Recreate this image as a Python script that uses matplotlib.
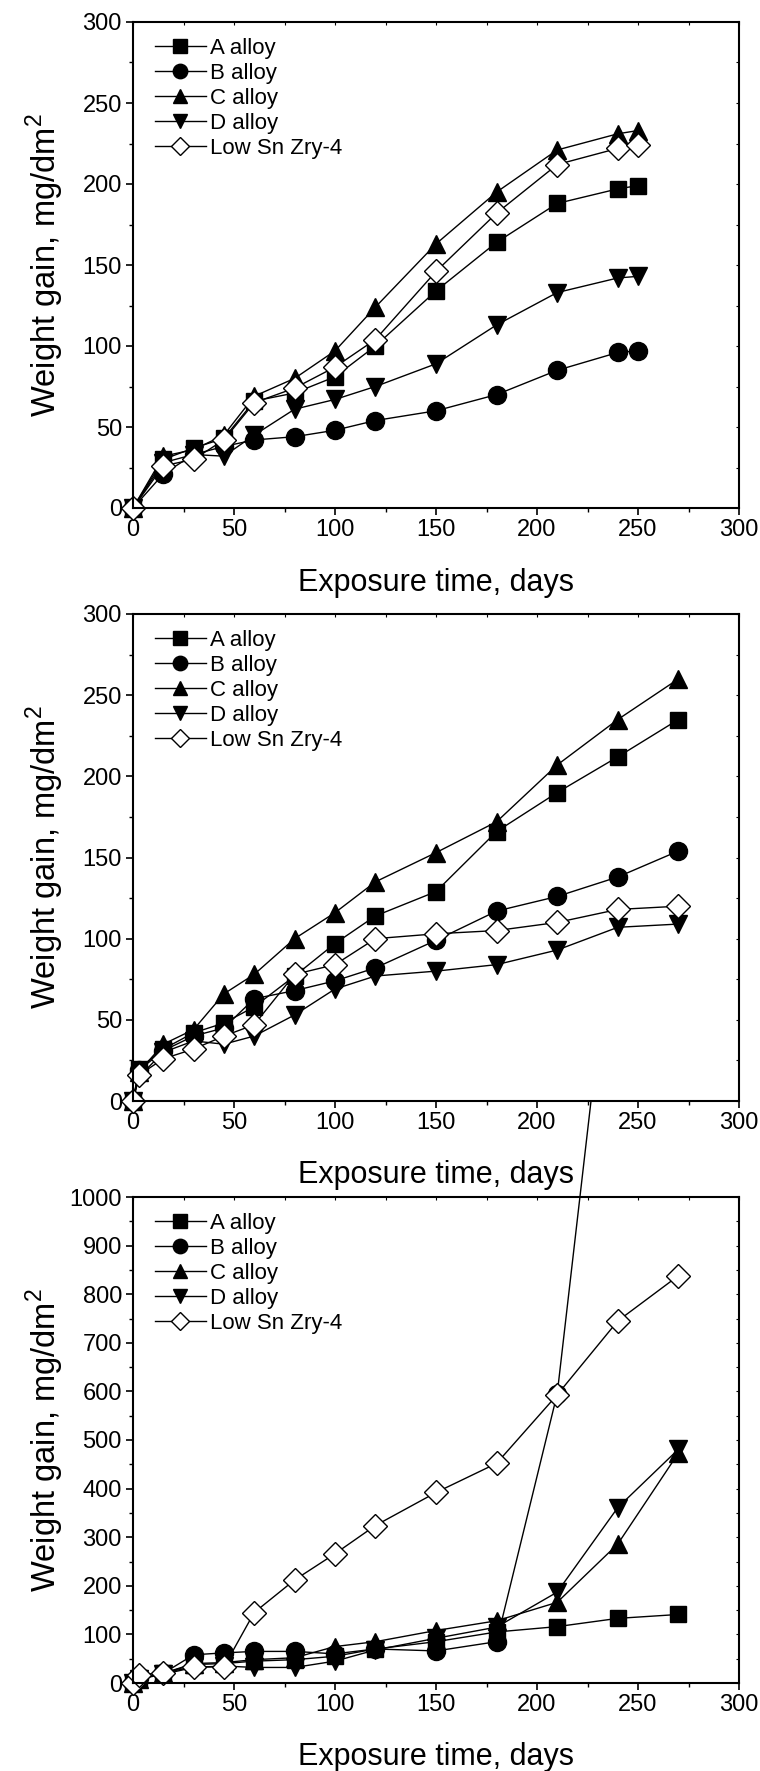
import numpy as np
import matplotlib
matplotlib.use("Agg")
import matplotlib.pyplot as plt
from matplotlib.ticker import MultipleLocator

plt.rcParams["font.family"] = ["Liberation Sans", "DejaVu Sans"]
plt.rcParams["mathtext.fontset"] = "custom"
plt.rcParams["mathtext.rm"] = "Liberation Sans"

SERIES = ["A alloy", "B alloy", "C alloy", "D alloy", "Low Sn Zry-4"]
MARKERS = ["s", "o", "^", "v", "D"]
FACES = ["black", "black", "black", "black", "white"]
SIZES = [12, 13, 13, 13, 12]

# ── panel 1 ─────────────────────────────────────────────
days_1 = [0, 15, 30, 45, 60, 80, 100, 120, 150, 180, 210, 240, 250]
a_1 = [0, 30, 37, 43, 66, 71, 81, 100, 134, 164, 188, 197, 199]
b_1 = [0, 21, 33, 38, 42, 44, 48, 54, 60, 70, 85, 96, 97]
c_1 = [0, 32, 36, 45, 69, 80, 97, 124, 163, 195, 221, 231, 233]
d_1 = [0, 28, 33, 32, 45, 61, 67, 75, 89, 113, 133, 142, 143]
low_1 = [0, 26, 30, 42, 65, 74, 87, 104, 146, 182, 212, 222, 224]

# ── panel 2 ─────────────────────────────────────────────
days_2 = [0, 3, 15, 30, 45, 60, 80, 100, 120, 150, 180, 210, 240, 270]
a_2 = [0, 20, 32, 42, 48, 58, 77, 97, 114, 129, 166, 190, 212, 235]
b_2 = [0, 19, 31, 40, 45, 63, 68, 74, 82, 99, 117, 126, 138, 154]
c_2 = [0, 18, 35, 44, 66, 78, 100, 116, 135, 153, 172, 207, 235, 260]
d_2 = [0, 15, 30, 37, 35, 40, 53, 69, 77, 80, 84, 93, 107, 109]
low_2 = [0, 16, 26, 32, 40, 47, 78, 84, 100, 103, 105, 110, 118, 120]

# ── panel 3 ─────────────────────────────────────────────
days_3 = [0, 3, 15, 30, 45, 60, 80, 100, 120, 150, 180, 210, 240, 270]
a_3 = [0, 10, 20, 38, 40, 45, 48, 55, 70, 85, 105, 116, 133, 141]
b_3 = [0, 10, 20, 58, 62, 65, 65, 60, 70, 66, 85, 595, 1675, 2000]
c_3 = [0, 8, 20, 40, 42, 48, 52, 75, 85, 108, 128, 166, 286, 473]
d_3 = [0, 8, 18, 32, 35, 32, 32, 45, 68, 92, 115, 187, 361, 481]
low_3 = [0, 17, 21, 33, 33, 145, 212, 266, 324, 392, 452, 593, 745, 838]

PANELS = [
    (days_1, [a_1, b_1, c_1, d_1, low_1], 300, 50, 25),
    (days_2, [a_2, b_2, c_2, d_2, low_2], 300, 50, 25),
    (days_3, [a_3, b_3, c_3, d_3, low_3], 1000, 100, 50),
]

# axes boxes in figure fractions (left, bottom, width, height)
W, H = 760, 1771
BOXES = [
    (133 / W, 1 - 508 / H, 606 / W, 486 / H),
    (133 / W, 1 - 1101 / H, 606 / W, 487 / H),
    (133 / W, 1 - 1683 / H, 606 / W, 486 / H),
]

fig = plt.figure(figsize=(W / 100, H / 100), dpi=100, facecolor="white")

for i, ((days, ys, ymax, ymaj, ymin), box) in enumerate(zip(PANELS, BOXES)):
    ax = fig.add_axes(box)
    # middle panel sits above the bottom one so the run-away line hides under it
    ax.set_zorder(3 if i == 1 else (2 if i == 0 else 1))
    for name, y, mk, fc, ms in zip(SERIES, ys, MARKERS, FACES, SIZES):
        ax.plot(days, y, color="black", linewidth=1.0, marker=mk,
                markersize=ms, markerfacecolor=fc, markeredgecolor="black",
                markeredgewidth=1.0, label=name, clip_on=False)

    ax.set_xlim(0, 300)
    ax.set_ylim(0, ymax)
    ax.xaxis.set_major_locator(MultipleLocator(50))
    ax.xaxis.set_minor_locator(MultipleLocator(25))
    ax.yaxis.set_major_locator(MultipleLocator(ymaj))
    ax.yaxis.set_minor_locator(MultipleLocator(ymin))
    ax.tick_params(which="major", direction="out", length=5, width=1.2,
                   labelsize=17, pad=3)
    ax.tick_params(which="minor", direction="out", length=3, width=1.0)
    for spine in ax.spines.values():
        spine.set_linewidth(1.5)

    top = ax.secondary_xaxis("top")
    top.set_xticks(np.arange(0, 301, 25))
    top.tick_params(direction="in", length=2, width=0.8, labeltop=False)
    right = ax.secondary_yaxis("right")
    right.set_yticks(np.arange(0, ymax + 1, ymin))
    right.tick_params(direction="in", length=2, width=0.8, labelright=False)
    for sec in (top, right):
        for spine in sec.spines.values():
            spine.set_visible(False)

    ax.set_xlabel("Exposure time, days", fontsize=22, labelpad=19)
    ax.set_ylabel("Weight gain, mg/dm$^2$", fontsize=23.5)
    ax.yaxis.set_label_coords(-0.11, 0.5)

    ax.legend(loc="upper left", frameon=False, fontsize=16, markerscale=0.8,
              handlelength=2.3, handletextpad=0.2, labelspacing=0.18,
              borderaxespad=0.3, bbox_to_anchor=(0.01, 1.0))

fig.savefig("out.png", dpi=100, facecolor="white")
plt.close(fig)
